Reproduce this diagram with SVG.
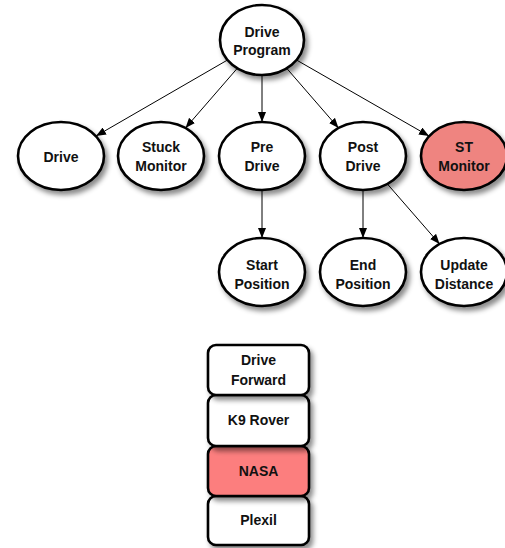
<svg xmlns="http://www.w3.org/2000/svg" width="505" height="548" viewBox="0 0 505 548">
<defs>
<filter id="sh" x="-20%" y="-20%" width="150%" height="160%">
<feDropShadow dx="3" dy="4" stdDeviation="2.5" flood-color="#000" flood-opacity="0.45"/>
</filter>
<marker id="arr" markerWidth="10" markerHeight="8" refX="10" refY="4" orient="auto" markerUnits="userSpaceOnUse">
<path d="M0,0 L10,4 L0,8 z" fill="#000"/>
</marker>
</defs>
<style>
.n ellipse, .b rect { fill: #fff; stroke: #000; stroke-width: 2.6; filter: url(#sh); }
.hl ellipse { fill: #ef8480; }
.hb rect { fill: #fc7e7e; }
text { font-family: "Liberation Sans", Arial, sans-serif; font-weight: bold; font-size: 14px; text-anchor: middle; fill: #111; }
.c line { stroke: #000; stroke-width: 1; marker-end: url(#arr); }
</style>
<g class="c" id="connectors">
<line x1="227.5" y1="60" x2="96" y2="136"/>
<line x1="237.3" y1="68.3" x2="185.5" y2="128"/>
<line x1="262" y1="75" x2="262" y2="122"/>
<line x1="286.7" y1="68.3" x2="338.5" y2="128"/>
<line x1="296.5" y1="60" x2="429" y2="136"/>
<line x1="262" y1="190" x2="262" y2="238"/>
<line x1="363" y1="190" x2="363" y2="238"/>
<line x1="387.4" y1="184" x2="439.6" y2="244"/>
</g>
<g class="n" id="drive-program"><ellipse cx="262" cy="40" rx="42" ry="35"/><text x="262" y="37">Drive</text><text x="262" y="55">Program</text></g>
<g class="n" id="drive"><ellipse cx="61" cy="156" rx="43" ry="34"/><text x="61" y="162">Drive</text></g>
<g class="n" id="stuck-monitor"><ellipse cx="161" cy="156" rx="43" ry="34"/><text x="161" y="152">Stuck</text><text x="161" y="171">Monitor</text></g>
<g class="n" id="pre-drive"><ellipse cx="262" cy="156" rx="43" ry="34"/><text x="262" y="152">Pre</text><text x="262" y="171">Drive</text></g>
<g class="n" id="post-drive"><ellipse cx="363" cy="156" rx="43" ry="34"/><text x="363" y="152">Post</text><text x="363" y="171">Drive</text></g>
<g class="n hl" id="st-monitor"><ellipse cx="464" cy="156" rx="43" ry="34"/><text x="464" y="152">ST</text><text x="464" y="171">Monitor</text></g>
<g class="n" id="start-position"><ellipse cx="262" cy="272" rx="43" ry="34"/><text x="262" y="270">Start</text><text x="262" y="289">Position</text></g>
<g class="n" id="end-position"><ellipse cx="363" cy="272" rx="43" ry="34"/><text x="363" y="270">End</text><text x="363" y="289">Position</text></g>
<g class="n" id="update-distance"><ellipse cx="464" cy="272" rx="43" ry="34"/><text x="464" y="270">Update</text><text x="464" y="289">Distance</text></g>
<g class="b" id="plexil"><rect x="208" y="496" width="101" height="49" rx="8"/><text x="258.5" y="525">Plexil</text></g>
<g class="b hb" id="nasa"><rect x="208" y="446" width="101" height="50" rx="8"/><text x="258.5" y="476">NASA</text></g>
<g class="b" id="k9-rover"><rect x="208" y="395" width="101" height="51" rx="8"/><text x="258.5" y="425">K9 Rover</text></g>
<g class="b" id="drive-forward"><rect x="208" y="345" width="101" height="50" rx="8"/><text x="258.5" y="365">Drive</text><text x="258.5" y="385">Forward</text></g>
</svg>
